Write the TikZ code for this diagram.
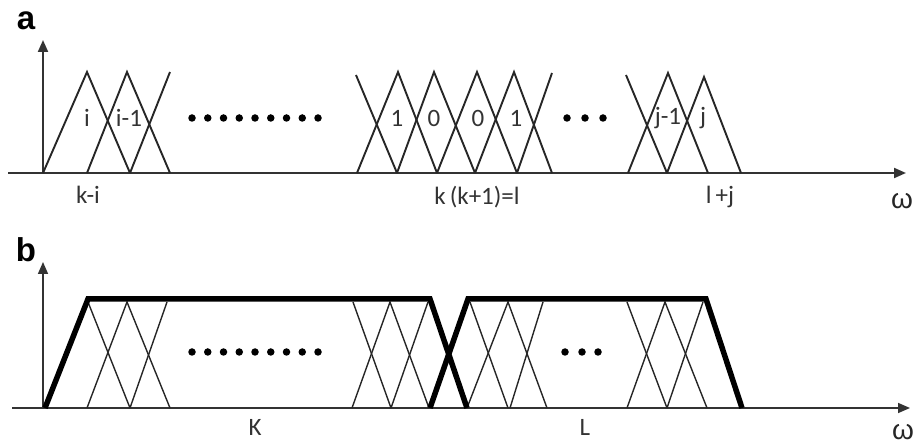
\documentclass[tikz,border=0pt]{standalone}
\usepackage{fontspec}
\setmainfont{Carlito}
\newfontfamily\arialfont{Liberation Sans}
\usetikzlibrary{arrows.meta}
\begin{document}
\begin{tikzpicture}[x=1pt,y=-1pt,
  thinline/.style={line width=1.9pt, draw=black!85},
  thinlineb/.style={line width=1.4pt, draw=black!85},
  thickline/.style={line width=5.5pt, line join=miter, draw=black},
  axis/.style={line width=2pt, draw=black!80, -{Triangle[length=12pt,width=10pt]}},
  lab/.style={font=\fontsize{25}{25}\selectfont, text=black!80, inner sep=0pt},
  omega/.style={font=\arialfont\fontsize{28}{28}\selectfont, text=black!85, inner sep=0pt},
  panel/.style={font=\arialfont\bfseries\fontsize{33}{33}\selectfont, inner sep=0pt},
  dotmark/.style={circle, fill=black, inner sep=0pt, minimum size=7.5pt}]
\useasboundingbox (0,0) rectangle (919,446);

% ---------------- panel a ----------------
\node[panel] (pa) at (26,21) {a};
\coordinate (a0) at (8,173);
\coordinate (a1) at (906,173);
\coordinate (ay0) at (43,173);
\coordinate (ay1) at (43,40);
\draw[axis] (a0) -- (a1);
\draw[axis] (ay0) -- (ay1);

% group 1
\draw[thinline] (43,173) -- (87,72) -- (130,173);
\draw[thinline] (87,173) -- (127,72) -- (170,173);
\draw[thinline] (130,173) -- (170,72);
% group 2
\draw[thinline] (356,75) -- (397,173);
\draw[thinline] (357,173) -- (398,72) -- (437,173);
\draw[thinline] (397,173) -- (434,72) -- (475,173);
\draw[thinline] (437,173) -- (477,72) -- (517,173);
\draw[thinline] (475,173) -- (514,72) -- (552,173);
\draw[thinline] (517,173) -- (552,73);
% group 3
\draw[thinline] (626,75) -- (667,173);
\draw[thinline] (628,173) -- (668,73) -- (708,173);
\draw[thinline] (667,173) -- (704,77) -- (741,173);

\node[lab] (li) at (87,118) {i};
\node[lab] (lim) at (129,118) {i-1};
\node[lab] (l1a) at (397,118) {1};
\node[lab] (l0a) at (434,118) {0};
\node[lab] (l0b) at (478,118) {0};
\node[lab] (l1b) at (516,118) {1};
\node[lab] (ljm) at (668,118) {j-1};
\node[lab] (lj) at (703,118) {j};

\foreach \i in {0,...,8} \node[dotmark] (da\i) at ({192+15.75*\i},118) {};
\foreach \x [count=\i] in {567,585,603} \node[dotmark] (ea\i) at (\x,118) {};

\node[lab] (lki) at (88,195) {k-i};
\node[lab] (lkk) at (477,197) {k\,(k+1)=l};
\node[lab] (llj) at (720,197) {l\,+j};
\node[omega] (wa) at (902,201) {ω};

% ---------------- panel b ----------------
\node[panel] (pb) at (26,250) {b};
\coordinate (b0) at (12,408);
\coordinate (b1) at (910,408);
\coordinate (by0) at (43,408);
\coordinate (by1) at (43,262);
\draw[axis, line width=1.6pt] (b0) -- (b1);
\draw[axis, line width=1.6pt] (by0) -- (by1);

% thin group 1
\draw[thinlineb] (88,302) -- (130,408);
\draw[thinlineb] (87,408) -- (127,302) -- (170,408);
\draw[thinlineb] (130,408) -- (167,302);
% thin group 2
\draw[thinlineb] (353,302) -- (391,408);
\draw[thinlineb] (352,408) -- (390,302) -- (429,408);
\draw[thinlineb] (391,408) -- (428,302);
\draw[thinlineb] (470,302) -- (508,408);
\draw[thinlineb] (467,408) -- (508,302) -- (547,408);
\draw[thinlineb] (510,408) -- (543,302);
% thin group 3
\draw[thinlineb] (627,302) -- (667,408);
\draw[thinlineb] (627,408) -- (665,302) -- (707,408);
\draw[thinlineb] (667,408) -- (703,302);

% thick trapezoids
\draw[thickline] (45,408) -- (88,299) -- (430,299) -- (467,408);
\draw[thickline] (430,408) -- (468,299) -- (706,299) -- (742,408);

\foreach \i in {0,...,8} \node[dotmark] (db\i) at ({192+15.75*\i},352) {};
\foreach \x [count=\i] in {565,582,598} \node[dotmark] (eb\i) at (\x,352) {};

\node[lab] (lK) at (255,427) {K};
\node[lab] (lL) at (585,427) {L};
\node[omega] (wb) at (903,432) {ω};
\end{tikzpicture}
\end{document}
